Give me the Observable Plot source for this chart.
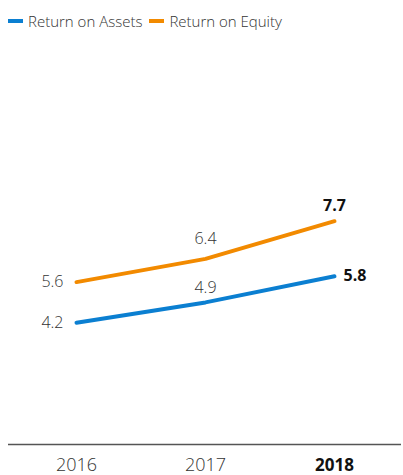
<!DOCTYPE html>
<html>
<head>
<meta charset="utf-8">
<script src="https://cdn.jsdelivr.net/npm/d3@7"></script>
<script src="https://cdn.jsdelivr.net/npm/@observablehq/plot@0.6"></script>
<style>
  body { margin: 0; background: #fff; font-family: "Open Sans", sans-serif; }
  #legend { height: 41px; display: flex; align-items: center; padding-left: 8px; font-size: 15px; color: #333; font-weight: 300; }
  .item { display: flex; align-items: center; margin-right: 7px; }
  .sw { width: 15px; height: 4px; margin-right: 5px; }
</style>
</head>
<body>
<div id="legend"></div>
<div id="chart"></div>
<script>
const years = ["2016", "2017", "2018"];
const seriesNames = ["Return on Assets", "Return on Equity"];
const roa = [4.2, 4.9, 5.8];
const roe = [5.6, 6.4, 7.7];
const colors = ["#0b7fd1", "#f28a00"];

const legend = document.getElementById("legend");
seriesNames.forEach((n, i) => {
  const it = document.createElement("div");
  it.className = "item";
  it.innerHTML = `<span class="sw" style="background:${colors[i]}"></span><span>${n}</span>`;
  legend.appendChild(it);
});

const data = [];
years.forEach((y, i) => {
  data.push({year: y, series: seriesNames[0], value: roa[i], idx: i});
  data.push({year: y, series: seriesNames[1], value: roe[i], idx: i});
});
const A = data.filter(d => d.series === seriesNames[0]);
const E = data.filter(d => d.series === seriesNames[1]);
const fmt = d => d.value.toFixed(1);
const txt = {fill: "#333", fontSize: 16, fontWeight: 300};
const bold = {fill: "#111", fontSize: 16, fontWeight: 700};

const chart = Plot.plot({
  width: 403,
  height: 434,
  marginLeft: 8,
  marginRight: 2,
  marginTop: 55,
  marginBottom: 31,
  style: {fontFamily: "Open Sans, sans-serif", background: "#fff"},
  x: {type: "point", domain: years, padding: 0.52, axis: null},
  y: {domain: [0, 12], axis: null},
  color: {domain: seriesNames, range: colors},
  marks: [
    Plot.ruleY([0], {stroke: "#555", strokeWidth: 1.5}),
    Plot.line(data, {x: "year", y: "value", z: "series", stroke: "series", strokeWidth: 4, strokeLinecap: "round"}),
    Plot.text(data.filter(d => d.idx === 0), {x: "year", y: "value", text: fmt, textAnchor: "end", dx: -13, ...txt}),
    Plot.text(E.filter(d => d.idx === 1), {x: "year", y: "value", text: fmt, dy: -20, ...txt}),
    Plot.text(A.filter(d => d.idx === 1), {x: "year", y: "value", text: fmt, dy: -15, ...txt}),
    Plot.text(E.filter(d => d.idx === 2), {x: "year", y: "value", text: fmt, dy: -15, ...bold}),
    Plot.text(A.filter(d => d.idx === 2), {x: "year", y: "value", text: fmt, textAnchor: "start", dx: 9, ...bold}),
    Plot.text(years.slice(0, 2), {x: d => d, y: () => 0, dy: 21, ...txt, fontSize: 18}),
    Plot.text(years.slice(2), {x: d => d, y: () => 0, dy: 21, ...bold, fontSize: 17})
  ]
});
document.getElementById("chart").appendChild(chart);
</script>
</body>
</html>
